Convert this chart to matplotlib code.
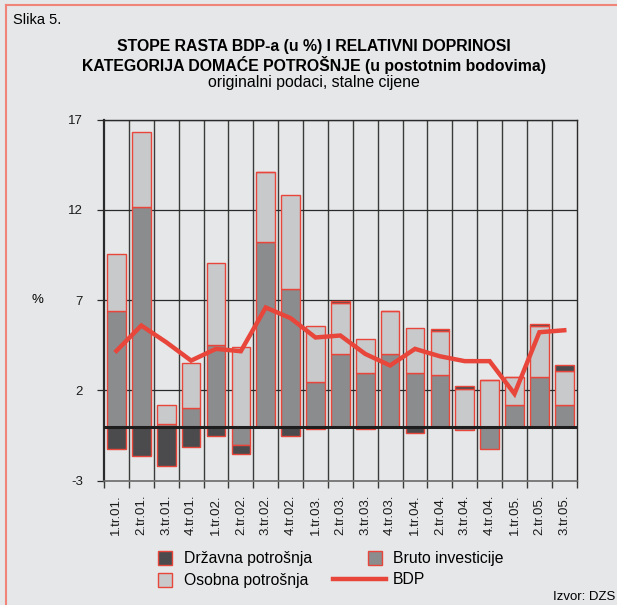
"""
Slika 5. - stope rasta BDP-a i relativni doprinosi kategorija domace potrosnje.
"""
import numpy as np
import matplotlib
matplotlib.use('Agg')
import matplotlib.pyplot as plt
from matplotlib.patches import Rectangle
from matplotlib.lines import Line2D

plt.rcParams['font.family'] = ['Liberation Sans', 'DejaVu Sans']

quarters = ['1.tr.01.', '2.tr.01.', '3.tr.01.', '4.tr.01.',
            '1.tr.02.', '2.tr.02.', '3.tr.02.', '4.tr.02.',
            '1.tr.03.', '2.tr.03.', '3.tr.03.', '4.tr.03.',
            '1.tr.04.', '2.tr.04.', '3.tr.04.', '4.tr.04.',
            '1.tr.05.', '2.tr.05.', '3.tr.05.']

# contributions in percentage points
bruto_investicije = [6.37, 12.14, 0.15, 1.05, 4.5, -1.0, 10.22, 7.62, 2.47, 4.02,
                     2.99, 4.02, 2.99, 2.86, -0.22, -1.27, 1.18, 2.73, 1.18]
osobna_potrosnja = [3.19, 4.15, 1.03, 2.45, 4.56, 4.39, 3.88, 5.18, 3.10, 2.81,
                    1.83, 2.35, 2.45, 2.44, 2.08, 2.60, 1.55, 2.82, 1.92]
drzavna_potrosnja = [-1.27, -1.66, -2.18, -1.14, -0.5, -0.53, 0.0, -0.5, -0.13, 0.13,
                     -0.13, 0.0, -0.35, 0.12, 0.15, 0.0, 0.0, 0.15, 0.28]
bdp = [4.19, 5.59, 4.67, 3.65, 4.30, 4.17, 6.59, 6.0, 4.93, 5.04,
       4.02, 3.38, 4.30, 3.89, 3.62, 3.62, 1.81, 5.22, 5.33]

yticks = [-3, 2, 7, 12, 17]

BG = '#e6e7e8'
RED = '#e8463b'
C_DRZ = '#4b4b4e'
C_INV = '#8b8c8e'
C_OSO = '#c8c9cb'

fig = plt.figure(figsize=(6.17, 6.05), dpi=100, facecolor=BG)
ax = fig.add_axes([104 / 617, 1 - 480.7 / 605, 472.7 / 617, 361.2 / 605])
ax.set_facecolor(BG)

x = np.arange(len(quarters))
pos_base = np.zeros(len(quarters))
neg_base = np.zeros(len(quarters))
for vals, col in [(bruto_investicije, C_INV), (osobna_potrosnja, C_OSO),
                  (drzavna_potrosnja, C_DRZ)]:
    vals = np.array(vals)
    base = np.where(vals >= 0, pos_base, neg_base)
    ax.bar(x, vals, bottom=base, width=0.75, color=col, edgecolor=RED,
           linewidth=1.0, zorder=3)
    pos_base = pos_base + np.clip(vals, 0, None)
    neg_base = neg_base + np.clip(vals, None, 0)

ax.plot(x, bdp, color=RED, lw=3.2, solid_joinstyle='miter', zorder=5)

ax.set_xlim(-0.5, len(quarters) - 0.5)
ax.set_ylim(-3, 17)

# grid
for b in np.arange(0.5, len(quarters) - 1, 1.0):
    ax.axvline(b, color='#3a3a3a', lw=1.0, zorder=1)
for yv in yticks[1:]:
    ax.axhline(yv, color='#2a2a2a', lw=0.9, zorder=1)
ax.axhline(0, color='#1e1e1e', lw=2.2, zorder=4)

for s in ['top', 'right', 'left']:
    ax.spines[s].set_color('#2a2a2a')
    ax.spines[s].set_linewidth(1.0)
ax.spines['left'].set_linewidth(1.6)
ax.spines['bottom'].set_color('#6a6a6a')
ax.spines['bottom'].set_linewidth(1.2)

ax.set_yticks(yticks)
ax.set_yticklabels([str(v) for v in yticks])
ax.tick_params(axis='y', direction='out', length=5, width=0.9, pad=10,
               labelsize=9.5, color='#2a2a2a', labelcolor='#1a1a1a')

ax.set_xticks(x)
ax.set_xticklabels(quarters, rotation=90, va='top', ha='center')
ax.set_xticks(np.arange(-0.5, len(quarters), 1.0), minor=True)
ax.tick_params(axis='x', which='major', length=0, pad=10, labelsize=9.5,
               labelcolor='#1a1a1a')
ax.tick_params(axis='x', which='minor', direction='out', length=5, width=1.0,
               color='#3a3a3a')

fig.text(37 / 617, 1 - 300 / 605, '%', fontsize=9.5, ha='center', va='center')

# titles
fig.text(13 / 617, 1 - 20 / 605, 'Slika 5.', fontsize=10.5, ha='left', va='center')
fig.text(314 / 617, 1 - 46 / 605, 'STOPE RASTA BDP-a (u %) I RELATIVNI DOPRINOSI',
         fontsize=11.4, fontweight='bold', ha='center', va='center')
fig.text(314 / 617, 1 - 64.5 / 605, 'KATEGORIJA DOMAĆE POTROŠNJE (u postotnim bodovima)',
         fontsize=11.4, fontweight='bold', ha='center', va='center')
fig.text(314 / 617, 1 - 83 / 605, 'originalni podaci, stalne cijene',
         fontsize=11.4, ha='center', va='center')

# legend, drawn by hand
def fx(px):
    return px / 617

def fy(py):
    return 1 - py / 605

for (x0, y0, col, label) in [(158, 551, C_DRZ, 'Državna potrošnja'),
                             (158, 573, C_OSO, 'Osobna potrošnja'),
                             (368, 551, C_INV, 'Bruto investicije')]:
    fig.add_artist(Rectangle((fx(x0), fy(y0 + 13.5)), 13.5 / 617, 13.5 / 605,
                             transform=fig.transFigure, facecolor=col,
                             edgecolor=RED, lw=1.0))
    tx = 184 if x0 < 300 else 393
    fig.text(fx(tx), fy(y0 + 7), label, fontsize=11.3, ha='left', va='center')

fig.add_artist(Line2D([fx(333), fx(386)], [fy(579), fy(579)],
                      transform=fig.transFigure, color=RED, lw=3.2))
fig.text(fx(393), fy(580), 'BDP', fontsize=11.3, ha='left', va='center')

fig.text(fx(615), fy(597), 'Izvor: DZS', fontsize=9.5, ha='right', va='center')

# frame border (top and left only)
fig.add_artist(Line2D([fx(6), 1], [fy(5), fy(5)], transform=fig.transFigure,
                      color='#f08478', lw=1.5))
fig.add_artist(Line2D([fx(6), fx(6)], [fy(5), 0], transform=fig.transFigure,
                      color='#f08478', lw=1.5))

fig.savefig('out.png', dpi=100, facecolor=BG)
